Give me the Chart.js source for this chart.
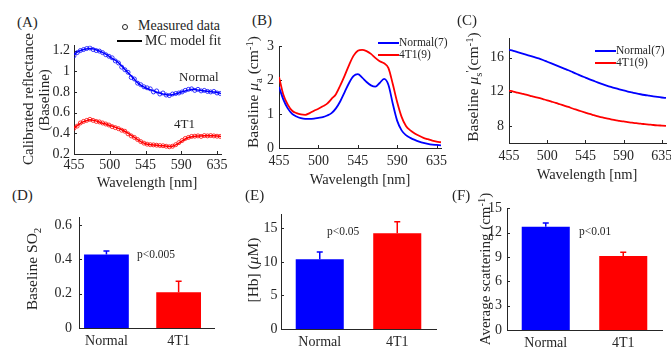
<!DOCTYPE html>
<html>
<head>
<meta charset="utf-8">
<script src="https://cdn.jsdelivr.net/npm/chart.js@4.4.1/dist/chart.umd.min.js"></script>
<style>
  html, body { margin: 0; padding: 0; background: #fff; overflow: hidden; }
  body { width: 671px; height: 348px; position: relative; font-family: "Liberation Serif", "Times New Roman", serif; color: #262626; }
  canvas { position: absolute; }
  .t { position: absolute; white-space: nowrap; line-height: 1; transform: translate(0, -50%); z-index: 2; }
  .c { transform: translate(-50%, -50%); }
  .r { transform: translate(-50%, -50%) rotate(-90deg); }
  sub, sup { font-size: 70%; line-height: 0; position: relative; vertical-align: baseline; }
  sub { top: 0.35em; }
  sup { top: -0.5em; }
  .key { position: absolute; height: 2px; z-index: 2; }
  .dot { position: absolute; width: 4px; height: 4px; border: 1px solid #262626; border-radius: 50%; z-index: 2; }
</style>
</head>
<body>
<canvas id="chartA"></canvas>
<canvas id="chartB"></canvas>
<canvas id="chartC"></canvas>
<canvas id="chartD"></canvas>
<canvas id="chartE"></canvas>
<canvas id="chartF"></canvas>

<!-- panel letters -->
<div class="t" style="left:17px;top:22px;font-size:15px">(A)</div>
<div class="t" style="left:252px;top:20px;font-size:15px">(B)</div>
<div class="t" style="left:457px;top:20px;font-size:15px">(C)</div>
<div class="t" style="left:12px;top:195px;font-size:15px">(D)</div>
<div class="t" style="left:245px;top:195px;font-size:15px">(E)</div>
<div class="t" style="left:452px;top:195px;font-size:15px">(F)</div>

<!-- axis titles -->
<div class="t r" style="left:28px;top:99px;font-size:15px">Calibrated reflectance</div>
<div class="t r" style="left:44px;top:100px;font-size:15px">(Baseline)</div>
<div class="t r" style="left:253px;top:92px;font-size:15.5px">Baseline <i>μ</i><sub>a</sub> (cm<sup>-1</sup>)</div>
<div class="t r" style="left:473px;top:87px;font-size:15.5px">Baseline <i>μ</i><sub>s</sub><sup>'</sup>(cm<sup>-1</sup>)</div>
<div class="t r" style="left:32px;top:269px;font-size:15.5px">Baseline SO<sub>2</sub></div>
<div class="t r" style="left:253px;top:270px;font-size:15.5px">[Hb] (<i>μ</i>M)</div>
<div class="t r" style="left:485px;top:269px;font-size:15px">Average scattering (cm<sup>-1</sup>)</div>
<div class="t c" style="left:147px;top:182px;font-size:14.5px">Wavelength [nm]</div>
<div class="t c" style="left:360px;top:179px;font-size:14.5px">Wavelength [nm]</div>
<div class="t c" style="left:587px;top:174px;font-size:14.5px">Wavelength [nm]</div>

<!-- legend and notes, panel A -->
<div class="dot" style="left:122px;top:24px"></div>
<div class="t" style="left:138px;top:26px;font-size:14px">Measured data</div>
<div class="key" style="left:117px;top:40px;width:25px;background:#000"></div>
<div class="t" style="left:145px;top:41px;font-size:14px">MC model fit</div>
<div class="t" style="left:179px;top:76px;font-size:13px">Normal</div>
<div class="t" style="left:174px;top:123px;font-size:13px">4T1</div>

<!-- legends B and C -->
<div class="key" style="left:378px;top:42px;width:21px;background:#0000ff"></div>
<div class="t" style="left:399px;top:43px;font-size:11.5px">Normal(7)</div>
<div class="key" style="left:378px;top:54px;width:21px;background:#ff0000"></div>
<div class="t" style="left:399px;top:55px;font-size:11.5px">4T1(9)</div>
<div class="key" style="left:595px;top:50px;width:21px;background:#0000ff"></div>
<div class="t" style="left:616px;top:51px;font-size:11.5px">Normal(7)</div>
<div class="key" style="left:595px;top:62px;width:21px;background:#ff0000"></div>
<div class="t" style="left:616px;top:63px;font-size:11.5px">4T1(9)</div>

<!-- p values -->
<div class="t" style="left:137px;top:255px;font-size:11.5px">p&lt;0.005</div>
<div class="t" style="left:327px;top:232px;font-size:11.5px">p&lt;0.05</div>
<div class="t" style="left:579px;top:232px;font-size:11.5px">p&lt;0.01</div>

<script>
// wavelengths of the model curves
const wl = [455, 460, 465, 470, 475, 480, 485, 490, 495, 500, 505, 510, 515, 520, 525, 530, 535, 540, 545,
            550, 555, 560, 565, 570, 575, 580, 585, 590, 595, 600, 605, 610, 615, 620, 625, 630, 635, 640];

// (A) MC model fit
const fitNormal = [1.16, 1.19, 1.205, 1.215, 1.22, 1.215, 1.20, 1.185, 1.165, 1.14, 1.115, 1.09, 1.05, 1.01, 0.97,
                   0.93, 0.89, 0.86, 0.84, 0.825, 0.81, 0.795, 0.785, 0.775, 0.77, 0.775, 0.785, 0.80, 0.81, 0.82,
                   0.825, 0.82, 0.815, 0.81, 0.805, 0.80, 0.795, 0.785];
const fitTumor = [0.45, 0.48, 0.505, 0.52, 0.53, 0.525, 0.515, 0.50, 0.49, 0.475, 0.465, 0.45, 0.435, 0.415, 0.39,
                  0.365, 0.34, 0.315, 0.30, 0.292, 0.288, 0.284, 0.28, 0.277, 0.272, 0.278, 0.295, 0.32, 0.345, 0.362,
                  0.37, 0.373, 0.375, 0.376, 0.377, 0.377, 0.375, 0.37];

// (A) measured data
const wlMeas = [455, 459, 463, 467, 471, 475, 479, 483, 487, 491, 495, 499, 503, 507, 511, 515, 519, 523, 527, 531,
                535, 539, 543, 547, 551, 555, 559, 563, 567, 571, 575, 579, 583, 587, 591, 595, 599, 603, 607, 611,
                615, 619, 623, 627, 631, 635, 639];
const measNormal = [1.15, 1.18, 1.20, 1.21, 1.22, 1.225, 1.21, 1.20, 1.195, 1.18, 1.16, 1.145, 1.13, 1.10, 1.08, 1.04,
                    1.015, 0.99, 0.94, 0.925, 0.885, 0.87, 0.85, 0.84, 0.83, 0.80, 0.81, 0.78, 0.79, 0.77, 0.765, 0.78,
                    0.785, 0.79, 0.80, 0.815, 0.825, 0.83, 0.815, 0.825, 0.81, 0.815, 0.805, 0.80, 0.805, 0.79, 0.785];
const measTumor = [0.45, 0.47, 0.50, 0.515, 0.525, 0.535, 0.525, 0.515, 0.51, 0.50, 0.49, 0.48, 0.465, 0.455, 0.445,
                   0.43, 0.42, 0.395, 0.375, 0.36, 0.34, 0.32, 0.305, 0.295, 0.29, 0.288, 0.285, 0.282, 0.28, 0.275,
                   0.27, 0.275, 0.29, 0.31, 0.33, 0.35, 0.36, 0.37, 0.372, 0.375, 0.37, 0.378, 0.375, 0.378, 0.375,
                   0.372, 0.37];

// (B) absorption
const muaNormal = [1.80, 1.43, 1.17, 1.01, 0.93, 0.88, 0.86, 0.86, 0.87, 0.89, 0.91, 0.96, 1.03, 1.17, 1.38, 1.65,
                   1.92, 2.12, 2.18, 2.08, 1.95, 1.85, 1.81, 1.92, 2.04, 1.86, 1.30, 0.80, 0.52, 0.38, 0.30, 0.24,
                   0.19, 0.15, 0.12, 0.10, 0.09, 0.08];
const muaTumor = [2.10, 1.57, 1.28, 1.10, 1.03, 0.99, 0.98, 1.03, 1.10, 1.16, 1.23, 1.31, 1.45, 1.59, 1.85, 2.14,
                  2.45, 2.72, 2.87, 2.90, 2.86, 2.78, 2.66, 2.56, 2.50, 2.36, 1.88, 1.35, 0.92, 0.65, 0.52, 0.43,
                  0.36, 0.30, 0.26, 0.22, 0.19, 0.17];

// (C) reduced scattering
const musNormal = [16.9, 16.8, 16.65, 16.5, 16.35, 16.2, 16.05, 15.9, 15.72, 15.52, 15.32, 15.12, 14.92, 14.72, 14.52,
                   14.3, 14.08, 13.86, 13.66, 13.46, 13.27, 13.08, 12.9, 12.73, 12.57, 12.42, 12.28, 12.15, 12.03,
                   11.92, 11.81, 11.71, 11.62, 11.54, 11.46, 11.39, 11.33, 11.28];
const musTumor = [12.13, 12.02, 11.9, 11.78, 11.66, 11.53, 11.4, 11.28, 11.14, 11.0, 10.85, 10.7, 10.54, 10.38, 10.22,
                  10.04, 9.88, 9.72, 9.56, 9.4, 9.26, 9.12, 8.99, 8.88, 8.78, 8.68, 8.6, 8.52, 8.45, 8.38, 8.32, 8.26,
                  8.21, 8.16, 8.11, 8.07, 8.04, 8.01];

// (D)-(F) group means and error bars
const groups = ["Normal", "4T1"];
const so2Mean = [0.428, 0.209];
const so2Err = [0.021, 0.063];
const hbMean = [10.38, 14.27];
const hbErr = [1.11, 1.71];
const scatMean = [12.75, 9.12];
const scatErr = [0.45, 0.48];

// tick values
const wlTicks = [455, 500, 545, 590, 635];
const reflTicks = [0.2, 0.4, 0.6, 0.8, 1, 1.2];
const muaTicks = [0, 1, 2, 3];
const musTicks = [8, 12, 16];
const so2Ticks = [0, 0.2, 0.4, 0.6];
const hbTicks = [0, 5, 10, 15];
const scatTicks = [0, 3, 6, 9, 12, 15];
const groupTicks = [1, 2];

const BLUE = "#0000ff";
const RED = "#ff0000";
const AX = "#262626";
const YW = 40, XH = 24, PT = 10, PR = 12;
const FONT = '"Liberation Serif", "Times New Roman", serif';

Chart.defaults.font.family = FONT;
Chart.defaults.font.size = 14;
Chart.defaults.color = AX;

const pts = (xs, ys) => xs.map((x, i) => ({ x, y: ys[i] }));

// MATLAB-like inward tick marks
const inTicks = {
    id: "inTicks",
    beforeDatasetsDraw(chart, args, opts) {
        const { ctx, chartArea: a, scales } = chart;
        ctx.save();
        ctx.strokeStyle = AX;
        ctx.lineWidth = 1;
        ctx.beginPath();
        if (opts.x) {
            scales.x.ticks.forEach(t => {
                const p = Math.round(scales.x.getPixelForValue(t.value)) + 0.5;
                ctx.moveTo(p, a.bottom);
                ctx.lineTo(p, a.bottom - 3);
            });
        }
        scales.y.ticks.forEach(t => {
            const p = Math.round(scales.y.getPixelForValue(t.value)) + 0.5;
            ctx.moveTo(a.left, p);
            ctx.lineTo(a.left + 3, p);
        });
        ctx.stroke();
        ctx.restore();
    }
};

// upper error bars on the bars
const errorBars = {
    id: "errorBars",
    afterDatasetsDraw(chart) {
        const ds = chart.data.datasets[0];
        if (!ds.errors) return;
        const meta = chart.getDatasetMeta(0);
        const y = chart.scales.y;
        const ctx = chart.ctx;
        meta.data.forEach((bar, i) => {
            const top = y.getPixelForValue(ds.data[i].y + ds.errors[i]);
            ctx.save();
            ctx.strokeStyle = ds.backgroundColor[i];
            ctx.lineWidth = 1.5;
            ctx.beginPath();
            ctx.moveTo(bar.x, bar.y);
            ctx.lineTo(bar.x, top);
            ctx.moveTo(bar.x - 3, top);
            ctx.lineTo(bar.x + 3, top);
            ctx.stroke();
            ctx.restore();
        });
    }
};

function axis(min, max, ticks, pad, horizontal, labels) {
    return {
        type: "linear",
        min, max,
        offset: false,
        grid: { display: false, drawTicks: false },
        border: { display: true, color: AX, width: 1 },
        afterBuildTicks: s => { s.ticks = ticks.map(v => ({ value: v })); },
        afterFit: s => { if (horizontal) s.height = XH; else s.width = YW; },
        ticks: {
            padding: pad,
            maxRotation: 0,
            autoSkip: false,
            color: AX,
            font: { family: FONT, size: 14 },
            callback: v => labels ? labels[v - 1] : String(v)
        }
    };
}

function makeChart(id, box, type, datasets, scales, inX) {
    const c = document.getElementById(id);
    const left = box.L - YW, top = box.T - PT;
    c.width = box.R + PR - left;
    c.height = box.B + XH - top;
    c.style.left = left + "px";
    c.style.top = top + "px";
    return new Chart(c, {
        type,
        data: { datasets },
        options: {
            responsive: false,
            animation: false,
            events: [],
            layout: { padding: { left: 0, top: PT, right: PR, bottom: 0 } },
            plugins: { legend: { display: false }, tooltip: { enabled: false }, inTicks: { x: inX } },
            scales
        },
        plugins: [inTicks, errorBars]
    });
}

function curve(xs, ys, color, width) {
    return {
        data: pts(xs, ys), borderColor: color, borderWidth: width, pointRadius: 0,
        fill: false, cubicInterpolationMode: "monotone", order: 0
    };
}
function dots(xs, ys, color) {
    return {
        data: pts(xs, ys), showLine: false, pointRadius: 2, pointBorderWidth: 0.8,
        pointBorderColor: color, pointBackgroundColor: "rgba(0,0,0,0)", order: 1
    };
}
function bars(means, errs) {
    return [{
        data: means.map((m, i) => ({ x: groupTicks[i], y: m })),
        errors: errs,
        backgroundColor: [BLUE, RED],
        borderWidth: 0,
        categoryPercentage: 0.62,
        barPercentage: 1
    }];
}

function drawAll() {
    // (A)
    makeChart("chartA", { L: 74, T: 43, R: 221, B: 154 }, "line", [
        dots(wlMeas, measNormal, BLUE),
        dots(wlMeas, measTumor, RED),
        curve(wl, fitNormal, BLUE, 1.5),
        curve(wl, fitTumor, RED, 1.5)
    ], {
        x: axis(455, 640, wlTicks, 3, true),
        y: axis(0.2, 1.25, reflTicks, 4, false)
    }, true);

    // (B)
    makeChart("chartB", { L: 279, T: 43, R: 441, B: 148 }, "line", [
        curve(wl, muaNormal, BLUE, 1.8),
        curve(wl, muaTumor, RED, 1.8)
    ], {
        x: axis(455, 640, wlTicks, 5, true),
        y: axis(0, 3, muaTicks, 5, false)
    }, true);

    // (C)
    makeChart("chartC", { L: 509, T: 35, R: 666, B: 143 }, "line", [
        curve(wl, musNormal, BLUE, 1.8),
        curve(wl, musTumor, RED, 1.8)
    ], {
        x: axis(455, 640, wlTicks, 5, true),
        y: axis(6, 18.25, musTicks, 5, false)
    }, true);

    // (D)
    makeChart("chartD", { L: 79, T: 212, R: 214, B: 328 }, "bar", bars(so2Mean, so2Err), {
        x: axis(0.62, 2.49, groupTicks, 5, true, groups),
        y: axis(0, 0.645, so2Ticks, 7, false)
    }, false);

    // (E)
    makeChart("chartE", { L: 281, T: 213, R: 436, B: 329 }, "bar", bars(hbMean, hbErr), {
        x: axis(0.5, 2.5, groupTicks, 5, true, groups),
        y: axis(0, 17, hbTicks, 3.5, false)
    }, false);

    // (F)
    makeChart("chartF", { L: 507, T: 205, R: 662, B: 330 }, "bar", bars(scatMean, scatErr), {
        x: axis(0.5, 2.5, groupTicks, 5, true, groups),
        y: axis(0, 15, scatTicks, 5, false)
    }, false);
}

document.fonts.load('14px "Liberation Serif"').then(drawAll, drawAll);
</script>
</body>
</html>
